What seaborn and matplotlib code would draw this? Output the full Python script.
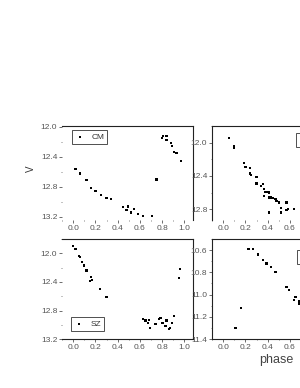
import matplotlib
matplotlib.use("Agg")

import pandas as pd
import matplotlib.pyplot as plt
import seaborn as sns
from matplotlib.ticker import MultipleLocator, FormatStrFormatter

sns.set_theme(style="ticks")
plt.rcParams["font.family"] = ["Liberation Sans", "DejaVu Sans"]

# light curves (phase, V magnitude)
cm_phase = [0.02, 0.06, 0.12, 0.16, 0.20, 0.25, 0.30, 0.34, 0.45, 0.49, 0.48,
            0.52, 0.55, 0.58, 0.63, 0.71, 0.75, 0.80, 0.81, 0.84, 0.84, 0.88,
            0.89, 0.91, 0.93, 0.97]
cm_mag = [12.56, 12.62, 12.71, 12.81, 12.85, 12.91, 12.95, 12.96, 13.07, 13.06,
          13.11, 13.14, 13.09, 13.16, 13.19, 13.19, 12.70, 12.15, 12.12, 12.12,
          12.17, 12.22, 12.25, 12.33, 12.35, 12.45]

tr_phase = [0.05, 0.10, 0.10, 0.19, 0.20, 0.24, 0.24, 0.25, 0.30, 0.30, 0.34,
            0.36, 0.37, 0.38, 0.40, 0.41, 0.37, 0.41, 0.43, 0.45, 0.47, 0.48,
            0.50, 0.52, 0.52, 0.41, 0.57, 0.57, 0.58, 0.64]
tr_mag = [11.94, 12.04, 12.06, 12.24, 12.29, 12.30, 12.37, 12.39, 12.41, 12.49,
          12.52, 12.50, 12.56, 12.59, 12.59, 12.60, 12.64, 12.66, 12.66, 12.67,
          12.68, 12.70, 12.72, 12.79, 12.84, 12.84, 12.72, 12.81, 12.80, 12.80]

sz_phase = [0.00, 0.02, 0.05, 0.06, 0.08, 0.10, 0.12, 0.16, 0.17, 0.15, 0.24,
            0.30, 0.63, 0.65, 0.67, 0.68, 0.69, 0.74, 0.77, 0.78, 0.79, 0.80,
            0.81, 0.84, 0.83, 0.86, 0.87, 0.89, 0.91, 0.95, 0.96]
sz_mag = [11.90, 11.94, 12.04, 12.05, 12.12, 12.17, 12.24, 12.33, 12.37, 12.39,
          12.50, 12.61, 12.92, 12.94, 12.98, 12.93, 13.04, 12.99, 12.92, 12.90,
          12.91, 12.97, 12.98, 12.94, 13.02, 13.06, 13.04, 12.97, 12.88, 12.35,
          12.22]

br_phase = [0.11, 0.16, 0.22, 0.23, 0.27, 0.31, 0.36, 0.39, 0.43, 0.47, 0.57,
            0.59, 0.65, 0.64, 0.68, 0.68]
br_mag = [11.30, 11.12, 10.59, 10.59, 10.59, 10.64, 10.69, 10.72, 10.75, 10.80,
          10.93, 10.96, 11.02, 11.05, 11.06, 11.08]

full_xticks = [0.0, 0.2, 0.4, 0.6, 0.8, 1.0]
cut_xticks = [0.0, 0.2, 0.4, 0.6]   # right panels are cropped past 0.6

panels = [
    # name, phase, mag, ylim, yticks, xticks, legend anchor, fig rect
    ("CM", cm_phase, cm_mag, (13.24, 11.99), [12.0, 12.4, 12.8, 13.2],
     full_xticks, (0.075, 0.955), [0.207, 0.433, 0.437, 0.242]),
    ("RV", tr_phase, tr_mag, (12.93, 11.80), [12.0, 12.4, 12.8],
     cut_xticks, (0.64, 0.925), [0.707, 0.433, 0.437, 0.242]),
    ("SZ", sz_phase, sz_mag, (13.20, 11.80), [12.0, 12.4, 12.8, 13.2],
     full_xticks, (0.07, 0.22), [0.207, 0.126, 0.437, 0.258]),
    ("TU", br_phase, br_mag, (11.40, 10.50), [10.6, 10.8, 11.0, 11.2, 11.4],
     cut_xticks, (0.65, 0.89), [0.707, 0.126, 0.437, 0.258]),
]

fig = plt.figure(figsize=(3.0, 3.88), dpi=100)
grey = "#555555"

for i, (name, ph, mag, ylim, yt, xt, anchor, rect) in enumerate(panels):
    ax = fig.add_axes(rect)
    df = pd.DataFrame({"phase": ph, "V": mag})
    sns.scatterplot(data=df, x="phase", y="V", ax=ax, marker="s", s=2.5,
                    color="black", edgecolor="none", label=name)
    ax.set_xlim(-0.1, 1.08)
    ax.set_ylim(*ylim)
    ax.set_yticks(yt)
    ax.set_xticks(xt)
    ax.xaxis.set_minor_locator(MultipleLocator(0.1))
    ax.yaxis.set_minor_locator(MultipleLocator(0.1 if i == 3 else 0.2))
    ax.tick_params(which="major", direction="out", length=2, width=0.6,
                   labelsize=6, labelcolor=grey, color=grey, pad=1.5)
    ax.tick_params(which="minor", direction="out", length=1, width=0.5,
                   color=grey)
    ax.yaxis.set_major_formatter(FormatStrFormatter("%.1f"))
    ax.xaxis.set_major_formatter(FormatStrFormatter("%.1f"))
    for sp in ax.spines.values():
        sp.set_linewidth(0.8)
        sp.set_color("#222222")
    if i in (0, 2):
        ax.spines["left"].set_visible(False)
    if i in (0, 1):
        ax.spines["bottom"].set_visible(False)
    ax.set_xlabel("")
    ax.set_ylabel("")
    leg = ax.legend(loc="upper left", bbox_to_anchor=anchor, borderaxespad=0,
                    fontsize=6, fancybox=False, framealpha=1, markerscale=1.0,
                    handlelength=1.2, handletextpad=0.8, borderpad=0.35)
    leg.get_frame().set_edgecolor("#333333")
    leg.get_frame().set_linewidth(0.6)
    for t in leg.get_texts():
        t.set_color("#333333")
    if i == 0:
        ax.set_ylabel("V", fontsize=7, color="#333333")
        ax.yaxis.set_label_coords(-0.2, 0.55)
    if i == 3:
        ax.set_xlabel("phase", fontsize=9, color="#444444")
        ax.xaxis.set_label_coords(0.49, -0.15)

fig.savefig("out.png", dpi=100)
